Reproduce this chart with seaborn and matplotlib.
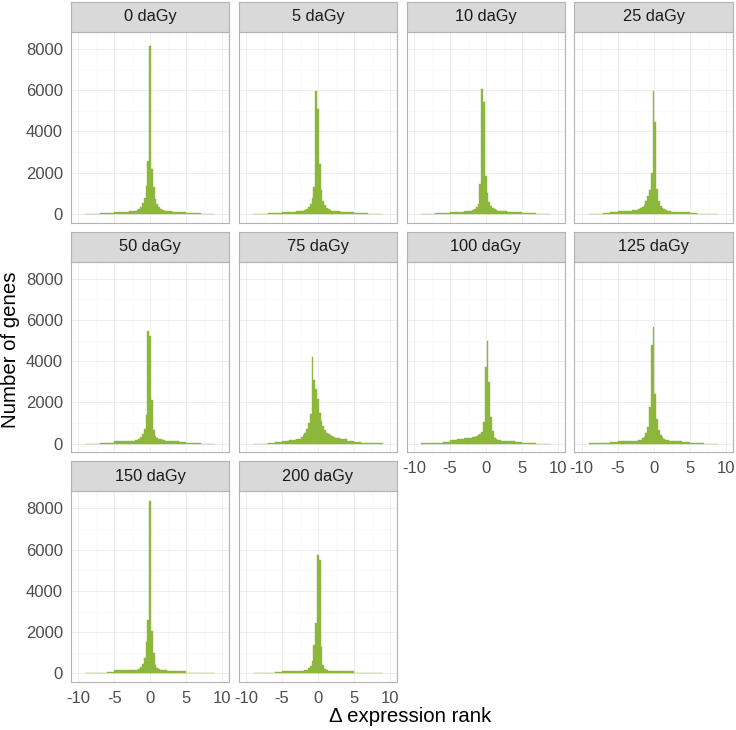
import numpy as np
import pandas as pd
import matplotlib
matplotlib.use("Agg")
import matplotlib.pyplot as plt
import seaborn as sns

# ---------------- data ----------------
doses = ["0 daGy", "5 daGy", "10 daGy", "25 daGy", "50 daGy",
         "75 daGy", "100 daGy", "125 daGy", "150 daGy", "200 daGy"]

# bin edges: coarse tails, 0.25-wide bins in the centre
left_tail_edges = [-9, -7, -6, -5, -4, -3]
centre_edges = list(np.arange(-2.375, 2.3751, 0.25))
right_tail_edges = [3, 4, 5, 6, 7, 9]

# counts per bin: 6 left-tail bins, 19 centre bins (-2.25 .. 2.25), 6 right-tail bins
counts_0 = [15, 40, 70, 100, 110, 130,
            150, 170, 200, 260, 360, 520, 800, 1350, 2550, 8150, 2200, 1300, 750, 480, 350, 260, 210, 170, 150,
            130, 110, 90, 50, 30, 10]
counts_5 = [15, 40, 70, 100, 110, 125,
            140, 160, 190, 250, 340, 500, 800, 1300, 5950, 5100, 2400, 1150, 650, 420, 300, 240, 200, 170, 150,
            130, 110, 90, 50, 30, 10]
counts_10 = [15, 40, 70, 100, 110, 125,
             140, 160, 190, 250, 330, 480, 1450, 6050, 5450, 1850, 1000, 600, 400, 300, 240, 200, 170, 150, 140,
             130, 110, 90, 50, 30, 10]
counts_25 = [20, 50, 90, 130, 160, 180,
             200, 230, 280, 350, 460, 620, 850, 1150, 2000, 5940, 4450, 1200, 650, 400, 290, 230, 190, 160, 140,
             120, 100, 80, 45, 25, 10]
counts_50 = [10, 30, 50, 130, 130, 140,
             150, 170, 200, 250, 330, 450, 700, 1415, 5480, 5200, 2125, 650, 380, 280, 240, 210, 190, 170, 150,
             130, 110, 70, 30, 15, 5]
counts_75 = [10, 30, 60, 120, 180, 250,
             320, 400, 520, 700, 1000, 1450, 4200, 3100, 2650, 2150, 1500, 1120, 850, 660, 540, 460, 400, 360, 330,
             280, 220, 150, 80, 40, 15]
counts_100 = [20, 50, 100, 170, 230, 260,
              280, 300, 320, 340, 370, 400, 450, 560, 1045, 3730, 4990, 2975, 1300, 600, 300, 220, 180, 160, 150,
              140, 120, 100, 40, 25, 10]
counts_125 = [15, 40, 75, 110, 120, 135,
              150, 170, 200, 260, 350, 500, 800, 1800, 4800, 5650, 2400, 1200, 650, 420, 310, 250, 200, 170, 150,
              130, 110, 90, 50, 30, 10]
counts_150 = [15, 40, 80, 150, 160, 160,
              160, 170, 190, 230, 300, 450, 740, 1500, 2610, 8370, 2040, 980, 420, 250, 200, 180, 170, 160, 150,
              140, 120, 100, 40, 20, 8]
counts_200 = [10, 25, 50, 100, 110, 115,
              120, 130, 150, 190, 260, 380, 610, 1370, 2460, 5720, 5510, 1290, 420, 230, 170, 140, 130, 120, 115,
              110, 100, 100, 30, 15, 5]

all_counts = [counts_0, counts_5, counts_10, counts_25, counts_50,
              counts_75, counts_100, counts_125, counts_150, counts_200]

x_ticks = [-10, -5, 0, 5, 10]
x_tick_labels = ["-10", "-5", "0", "5", "10"]
y_ticks = [0, 2000, 4000, 6000, 8000]
y_tick_labels = ["0", "2000", "4000", "6000", "8000"]

# ---------------- style ----------------
sns.set_theme(style="white")
plt.rcParams['font.family'] = ['Liberation Sans', 'DejaVu Sans']
plt.rcParams['axes.unicode_minus'] = False

GREEN = "#8CB63C"
BORDER = "#B3B3B3"
STRIP = "#D9D9D9"

edges = [float(e) for e in left_tail_edges + centre_edges + right_tail_edges]
centres = [(a + b) / 2 for a, b in zip(edges[:-1], edges[1:])]

W, H = 736, 730
fig = plt.figure(figsize=(W / 100, H / 100), dpi=100)

col_left = [71, 238.8, 406.6, 574.4]
pw = 158.3
strip_top = [2, 231.7, 461.4]
sh = 30
ph = 190.7

bottom_panels = {6, 7, 8, 9}

for i, (label, counts) in enumerate(zip(doses, all_counts)):
    r, c = divmod(i, 4)
    x0 = col_left[c]
    ytop = strip_top[r] + sh
    ax = fig.add_axes([x0 / W, 1 - (ytop + ph) / H, pw / W, ph / H])
    df = pd.DataFrame({"rank": centres, "n": counts})
    sns.histplot(data=df, x="rank", weights="n", bins=edges, ax=ax, color=GREEN,
                 alpha=1, linewidth=0.3, edgecolor=GREEN, stat="count")
    ax.set_xlim(-11, 11)
    ax.set_ylim(-420, 8820)
    ax.set_xlabel("")
    ax.set_ylabel("")
    ax.set_facecolor("white")
    ax.set_xticks(x_ticks)
    ax.set_xticks([-7.5, -2.5, 2.5, 7.5], minor=True)
    ax.set_yticks(y_ticks)
    ax.set_yticks([1000, 3000, 5000, 7000], minor=True)
    ax.set_axisbelow(True)
    ax.grid(which="major", color="#EBEBEB", linewidth=0.6)
    ax.grid(which="minor", color="#F5F5F5", linewidth=0.4)
    for s in ax.spines.values():
        s.set_color(BORDER)
        s.set_linewidth(0.8)
    ax.tick_params(which="minor", length=0)
    show_x = i in bottom_panels
    show_y = c == 0
    if show_x:
        ax.set_xticklabels(x_tick_labels)
        ax.tick_params(axis="x", which="major", length=3.3, width=0.6, color="#555555",
                       labelsize=12, labelcolor="#4D4D4D", pad=3.0)
    else:
        ax.set_xticklabels([])
        ax.tick_params(axis="x", which="major", length=0)
    if show_y:
        ax.set_yticklabels(y_tick_labels)
        ax.tick_params(axis="y", which="major", length=3.3, width=0.6, color="#555555",
                       labelsize=12, labelcolor="#4D4D4D", pad=2.4)
    else:
        ax.set_yticklabels([])
        ax.tick_params(axis="y", which="major", length=0)

    sax = fig.add_axes([x0 / W, 1 - ytop / H, pw / W, sh / H])
    sax.set_facecolor(STRIP)
    sax.set_xticks([])
    sax.set_yticks([])
    for s in sax.spines.values():
        s.set_color(BORDER)
        s.set_linewidth(0.8)
    sax.text(0.5, 0.5, label, ha="center", va="center", fontsize=11.8,
             color="#1A1A1A", transform=sax.transAxes)

fig.text(11 / W, 1 - 350 / H, "Number of genes", rotation=90, ha="center", va="center",
         fontsize=14.7, color="black")
fig.text(410 / W, 1 - 717 / H, "Δ expression rank", ha="center", va="center",
         fontsize=14.7, color="black")

fig.savefig("out.png", dpi=100)
